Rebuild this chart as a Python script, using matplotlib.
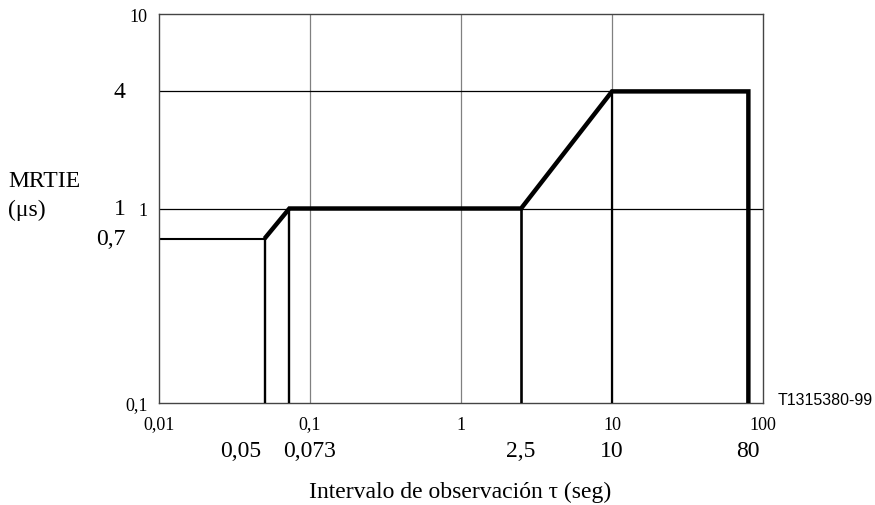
import matplotlib
matplotlib.use("Agg")
import matplotlib.pyplot as plt
import matplotlib.transforms as mtransforms

# ---- data ----
mask_x = [0.05, 0.073, 2.5, 10, 80]
mask_y = [0.7, 1, 1, 4, 4]
x_min, x_max = 0.01, 100
y_min, y_max = 0.1, 10
grid_x = [0.1, 1, 10]
x_ticks = [0.01, 0.1, 1, 10, 100]
x_tick_labels = ["0,01", "0,1", "1", "10", "100"]
y_ticks = [0.1, 1, 10]
y_tick_labels = ["0,1", "1", "10"]
y_marks = [4, 1, 0.7]
y_mark_labels = ["4", "1", "0,7"]
x_marks = [0.05, 0.073, 2.5, 10, 80]
x_mark_labels = ["0,05", "0,073", "2,5", "10", "80"]

serif = ["Liberation Serif", "DejaVu Serif"]
plt.rcParams["font.family"] = serif
BIG = 17
SMALL = 13

fig = plt.figure(figsize=(8.75, 5.06), dpi=100)
ax = fig.add_axes([159 / 875, 1 - 404 / 506, 604 / 875, 389 / 506])
ax.set_xscale("log")
ax.set_yscale("log")
ax.set_xlim(x_min, x_max)
ax.set_ylim(y_min, y_max)

for s in ax.spines.values():
    s.set_color("#444444")
    s.set_linewidth(1.0)

# vertical grid lines
for gx in grid_x:
    ax.axvline(gx, color="#808080", lw=0.9, zorder=1)

# thin reference lines
ax.plot([x_min, mask_x[0]], [mask_y[0], mask_y[0]], color="black", lw=1.5, zorder=2)
ax.plot([x_min, x_max], [mask_y[1], mask_y[1]], color="black", lw=0.9, zorder=2)
ax.plot([x_min, mask_x[3]], [mask_y[3], mask_y[3]], color="black", lw=0.9, zorder=2)

# vertical drop lines
drop_lw = [1.7, 1.7, 1.9, 1.6]
for xv, yv, lw in zip(mask_x[:4], mask_y[:4], drop_lw):
    ax.plot([xv, xv], [y_min, yv], color="black", lw=lw, zorder=3)

# thick mask
ax.plot(mask_x + [mask_x[-1]], mask_y + [y_min], color="black", lw=3.2,
        solid_joinstyle="miter", solid_capstyle="butt", zorder=4)

# ticks
ax.minorticks_off()
ax.set_xticks(x_ticks)
ax.set_xticklabels(x_tick_labels, fontsize=SMALL)
ax.set_yticks(y_ticks)
ax.set_yticklabels(y_tick_labels, fontsize=SMALL)
ax.tick_params(axis="both", length=0)
ax.tick_params(axis="x", pad=9)
ax.tick_params(axis="y", pad=8)

# big y labels
ytrans = mtransforms.blended_transform_factory(ax.transAxes, ax.transData)
for yv, lab in zip(y_marks, y_mark_labels):
    ax.text(-0.055, yv, lab, transform=ytrans, ha="right", va="center",
            fontsize=BIG, clip_on=False)

# big x labels
xtrans = mtransforms.blended_transform_factory(ax.transData, ax.transAxes)
align = ["right", "left", "center", "center", "center"]
offs = [-3, -6, 0, 0, 0]
for xv, lab, ha, dx in zip(x_marks, x_mark_labels, align, offs):
    tr = mtransforms.offset_copy(xtrans, fig=fig, x=dx, y=0, units="dots")
    ax.text(xv, -0.123, lab, transform=tr, ha=ha, va="center",
            fontsize=BIG, clip_on=False)

# axis titles
fig.text(8 / 875, 1 - 182 / 506, "MRTIE", ha="left", va="center", fontsize=BIG)
fig.text(8 / 875, 1 - 210 / 506, "(μs)", ha="left", va="center", fontsize=BIG)
fig.text(460 / 875, 1 - 492 / 506, "Intervalo de observación τ (seg)",
         ha="center", va="center", fontsize=BIG)

fig.text(778 / 875, 1 - 401 / 506, "T1315380-99", ha="left", va="center",
         fontsize=11.5, family=["Liberation Sans", "DejaVu Sans"])

fig.savefig("out.png", dpi=100)
